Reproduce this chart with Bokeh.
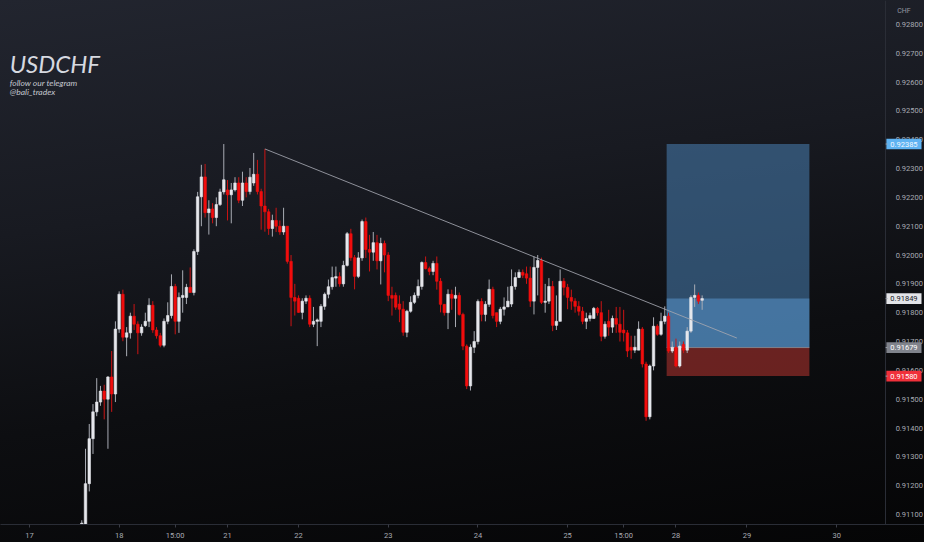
from bokeh.plotting import figure
from bokeh.models import Range1d, FixedTicker, PrintfTickFormatter, Label, ColumnDataSource
from bokeh.embed import file_html
from bokeh.resources import INLINE
from bokeh.core.properties import value

# ---- hourly OHLC candles (USDCHF) ----
opens = [0.91060, 0.91052, 0.91207, 0.91363, 0.91456, 0.91490, 0.91528, 0.91500, 0.91577, 0.91518,
         0.91743, 0.91864, 0.91715, 0.91730, 0.91788, 0.91760, 0.91730, 0.91755, 0.91770, 0.91826,
         0.91740, 0.91720, 0.91687, 0.91770, 0.91790, 0.91891, 0.91770, 0.91853, 0.91853, 0.91888,
         0.91870, 0.92012, 0.92202, 0.92271, 0.92147, 0.92160, 0.92130, 0.92175, 0.92219, 0.92226,
         0.92209, 0.92226, 0.92250, 0.92190, 0.92250, 0.92220, 0.92250, 0.92280, 0.92220, 0.92170,
         0.92150, 0.92092, 0.92120, 0.92100, 0.92080, 0.92100, 0.91978, 0.91853, 0.91850, 0.91801,
         0.91840, 0.91850, 0.91760, 0.91770, 0.91770, 0.91822, 0.91864, 0.91890, 0.91920, 0.91925,
         0.91900, 0.91964, 0.92074, 0.91991, 0.91926, 0.91990, 0.92116, 0.92019, 0.92010, 0.92043,
         0.91980, 0.92040, 0.92000, 0.91860, 0.91860, 0.91830, 0.91812, 0.91732, 0.91805, 0.91836,
         0.91860, 0.91891, 0.91974, 0.91953, 0.91943, 0.91971, 0.91909, 0.91829, 0.91800, 0.91864,
         0.91850, 0.91860, 0.91794, 0.91684, 0.91546, 0.91680, 0.91700, 0.91839, 0.91794, 0.91829,
         0.91881, 0.91800, 0.91770, 0.91812, 0.91820, 0.91830, 0.91891, 0.91922, 0.91940, 0.91935,
         0.91920, 0.91840, 0.91957, 0.91981, 0.91836, 0.91840, 0.91891, 0.91756, 0.91770, 0.91909,
         0.91888, 0.91853, 0.91840, 0.91822, 0.91805, 0.91770, 0.91780, 0.91780, 0.91815, 0.91800,
         0.91718, 0.91770, 0.91750, 0.91780, 0.91760, 0.91740, 0.91730, 0.91680, 0.91670, 0.91670,
         0.91743, 0.91622, 0.91439, 0.91615, 0.91753, 0.91725, 0.91770, 0.91788, 0.91667, 0.91680,
         0.91615, 0.91690, 0.91670, 0.91736, 0.91853, 0.91860, 0.91843]
highs = [0.91080, 0.91328, 0.91414, 0.91483, 0.91573, 0.91546, 0.91550, 0.91580, 0.91667, 0.91770,
         0.91874, 0.91880, 0.91750, 0.91800, 0.91830, 0.91770, 0.91760, 0.91800, 0.91850, 0.91840,
         0.91750, 0.91730, 0.91780, 0.91836, 0.91933, 0.91900, 0.91870, 0.91947, 0.91900, 0.91957,
         0.92020, 0.92219, 0.92313, 0.92316, 0.92190, 0.92180, 0.92200, 0.92230, 0.92385, 0.92260,
         0.92250, 0.92270, 0.92270, 0.92289, 0.92270, 0.92302, 0.92354, 0.92330, 0.92230, 0.92368,
         0.92160, 0.92140, 0.92164, 0.92120, 0.92164, 0.92100, 0.92000, 0.91900, 0.91860, 0.91850,
         0.91860, 0.91860, 0.91820, 0.91780, 0.91830, 0.91870, 0.91915, 0.91960, 0.91960, 0.91940,
         0.91980, 0.92080, 0.92091, 0.92000, 0.92010, 0.92123, 0.92130, 0.92070, 0.92080, 0.92070,
         0.92060, 0.92050, 0.92010, 0.91890, 0.91870, 0.91860, 0.91840, 0.91810, 0.91857, 0.91870,
         0.91915, 0.91978, 0.91995, 0.91960, 0.91980, 0.91995, 0.91920, 0.91830, 0.91881, 0.91880,
         0.91890, 0.91870, 0.91800, 0.91690, 0.91690, 0.91736, 0.91846, 0.91850, 0.91840, 0.91915,
         0.91890, 0.91800, 0.91820, 0.91853, 0.91890, 0.91950, 0.91940, 0.91950, 0.91950, 0.91960,
         0.91960, 0.91995, 0.92000, 0.91991, 0.91900, 0.91920, 0.91910, 0.91860, 0.91950, 0.91920,
         0.91900, 0.91880, 0.91850, 0.91840, 0.91820, 0.91800, 0.91800, 0.91820, 0.91820, 0.91840,
         0.91770, 0.91810, 0.91790, 0.91820, 0.91820, 0.91810, 0.91740, 0.91720, 0.91720, 0.91770,
         0.91750, 0.91630, 0.91620, 0.91784, 0.91760, 0.91800, 0.91822, 0.91800, 0.91700, 0.91710,
         0.91700, 0.91700, 0.91750, 0.91860, 0.91898, 0.91870, 0.91860]
lows = [0.91040, 0.91040, 0.91180, 0.91310, 0.91441, 0.91477, 0.91430, 0.91328, 0.91456, 0.91490,
        0.91730, 0.91701, 0.91649, 0.91710, 0.91740, 0.91656, 0.91720, 0.91750, 0.91750, 0.91730,
        0.91710, 0.91680, 0.91680, 0.91760, 0.91780, 0.91725, 0.91730, 0.91800, 0.91830, 0.91870,
        0.91860, 0.92000, 0.92100, 0.92130, 0.92071, 0.92110, 0.92100, 0.92170, 0.92210, 0.92120,
        0.92110, 0.92220, 0.92180, 0.92170, 0.92200, 0.92210, 0.92240, 0.92210, 0.92088, 0.92081,
        0.92070, 0.92064, 0.92080, 0.92070, 0.92070, 0.91970, 0.91753, 0.91790, 0.91800, 0.91777,
        0.91830, 0.91750, 0.91750, 0.91684, 0.91750, 0.91810, 0.91850, 0.91880, 0.91890, 0.91890,
        0.91890, 0.91960, 0.91980, 0.91881, 0.91920, 0.91980, 0.91990, 0.91943, 0.91980, 0.91950,
        0.91898, 0.91940, 0.91840, 0.91790, 0.91810, 0.91767, 0.91720, 0.91715, 0.91800, 0.91830,
        0.91850, 0.91880, 0.91950, 0.91930, 0.91930, 0.91880, 0.91801, 0.91790, 0.91743, 0.91810,
        0.91750, 0.91790, 0.91670, 0.91535, 0.91530, 0.91660, 0.91690, 0.91770, 0.91770, 0.91820,
        0.91780, 0.91750, 0.91760, 0.91790, 0.91820, 0.91820, 0.91880, 0.91920, 0.91920, 0.91900,
        0.91820, 0.91794, 0.91860, 0.91830, 0.91800, 0.91830, 0.91736, 0.91740, 0.91770, 0.91860,
        0.91812, 0.91810, 0.91800, 0.91790, 0.91760, 0.91743, 0.91770, 0.91780, 0.91790, 0.91701,
        0.91710, 0.91720, 0.91730, 0.91730, 0.91700, 0.91700, 0.91646, 0.91640, 0.91660, 0.91670,
        0.91610, 0.91425, 0.91430, 0.91600, 0.91720, 0.91720, 0.91760, 0.91660, 0.91660, 0.91610,
        0.91610, 0.91660, 0.91660, 0.91730, 0.91820, 0.91830, 0.91810]
closes = [0.91070, 0.91207, 0.91363, 0.91456, 0.91490, 0.91528, 0.91500, 0.91577, 0.91518, 0.91743,
          0.91864, 0.91715, 0.91730, 0.91788, 0.91760, 0.91730, 0.91750, 0.91770, 0.91826, 0.91740,
          0.91720, 0.91687, 0.91770, 0.91790, 0.91891, 0.91770, 0.91853, 0.91860, 0.91888, 0.91870,
          0.92012, 0.92202, 0.92271, 0.92147, 0.92160, 0.92130, 0.92175, 0.92219, 0.92261, 0.92209,
          0.92226, 0.92250, 0.92190, 0.92250, 0.92220, 0.92270, 0.92280, 0.92220, 0.92170, 0.92150,
          0.92092, 0.92120, 0.92100, 0.92080, 0.92100, 0.91978, 0.91853, 0.91840, 0.91801, 0.91840,
          0.91850, 0.91760, 0.91770, 0.91775, 0.91822, 0.91864, 0.91890, 0.91922, 0.91925, 0.91900,
          0.91964, 0.92074, 0.91991, 0.91926, 0.91990, 0.92116, 0.92019, 0.92010, 0.92043, 0.91980,
          0.92040, 0.92000, 0.91860, 0.91850, 0.91819, 0.91812, 0.91732, 0.91805, 0.91836, 0.91860,
          0.91891, 0.91974, 0.91953, 0.91943, 0.91971, 0.91909, 0.91829, 0.91800, 0.91864, 0.91850,
          0.91860, 0.91794, 0.91684, 0.91546, 0.91680, 0.91700, 0.91839, 0.91794, 0.91829, 0.91881,
          0.91790, 0.91770, 0.91812, 0.91820, 0.91840, 0.91891, 0.91922, 0.91940, 0.91930, 0.91920,
          0.91840, 0.91957, 0.91981, 0.91836, 0.91840, 0.91891, 0.91756, 0.91770, 0.91909, 0.91888,
          0.91853, 0.91840, 0.91822, 0.91805, 0.91770, 0.91780, 0.91790, 0.91815, 0.91800, 0.91718,
          0.91760, 0.91750, 0.91780, 0.91760, 0.91732, 0.91730, 0.91667, 0.91670, 0.91680, 0.91743,
          0.91622, 0.91439, 0.91615, 0.91753, 0.91725, 0.91770, 0.91788, 0.91667, 0.91680, 0.91615,
          0.91684, 0.91670, 0.91736, 0.91853, 0.91860, 0.91840, 0.91849]

# time axis (candle index -> date labels)
tick_pos = [-14, 10, 25, 39, 58, 82, 106, 130, 145, 159, 178, 202]
tick_labels = ["17", "18", "15:00", "21", "22", "23", "24", "25", "15:00", "28", "29", "30"]

# price axis ticks
price_ticks = [0.911, 0.912, 0.913, 0.914, 0.915, 0.916, 0.917, 0.918, 0.919,
               0.920, 0.921, 0.922, 0.923, 0.924, 0.925, 0.926, 0.927, 0.928]

# long-position tool
pos_start, pos_end = 156.5, 194.7
entry_price = 0.91679
target_price = 0.92385
stop_price = 0.91580
last_price = 0.91849

# trend line (index, price)
trend_x = [49, 175.3]
trend_y = [0.92368, 0.91712]

# price-scale tags: price, background, text colour
tag_prices = [target_price, last_price, entry_price, stop_price]
tag_bg = ["#5fb3f2", "#e3e4e8", "#80838c", "#f0303a"]
tag_fg = ["#f2f8ff", "#15171d", "#ffffff", "#ffffff"]

# ---------------------------------------------------------------
scale_x = 215.1          # where the price scale begins (candle-index units)
x_start, x_end = -21.75, 225.5
y_low, y_high = 0.910653, 0.928829

idx = list(range(len(opens)))
up = [i for i in idx if closes[i] >= opens[i]]
dn = [i for i in idx if closes[i] < opens[i]]

def src(sel):
    return ColumnDataSource(dict(
        x=[idx[i] for i in sel],
        h=[highs[i] for i in sel], l=[lows[i] for i in sel],
        top=[max(opens[i], closes[i]) for i in sel],
        bot=[min(opens[i], closes[i]) for i in sel]))

up_src, dn_src = src(up), src(dn)

p = figure(width=924, height=542,
           x_range=Range1d(x_start, x_end), y_range=Range1d(y_low, y_high),
           y_axis_location="right", output_backend="svg", toolbar_location=None)
p.styles = {"background": "linear-gradient(172deg, #22252f 0%, #181a21 35%, #0d0e11 65%, #050506 100%)"}
p.background_fill_alpha = 0
p.border_fill_alpha = 0
p.outline_line_color = None
p.min_border_left = 0
p.min_border_top = 0
p.min_border_right = 0
p.min_border_bottom = 16
p.xgrid.grid_line_color = None
p.ygrid.grid_line_color = None

# position tool
p.quad(left=[pos_start], right=[pos_end], bottom=[entry_price], top=[target_price],
       fill_color="#4d8ac2", fill_alpha=0.5, line_color=None)
p.quad(left=[pos_start], right=[pos_end], bottom=[entry_price], top=[last_price],
       fill_color="#5b9bd5", fill_alpha=0.5, line_color=None)
p.quad(left=[pos_start], right=[pos_end], bottom=[stop_price], top=[entry_price],
       fill_color="#d03a34", fill_alpha=0.48, line_color=None)
p.segment(x0=[pos_start], x1=[pos_end], y0=[entry_price], y1=[entry_price],
          line_color="#8e919a", line_width=1, line_alpha=0.8)

# candles
p.segment(x0="x", x1="x", y0="l", y1="h", source=up_src, line_color="#a9acb4", line_width=1)
p.segment(x0="x", x1="x", y0="l", y1="h", source=dn_src, line_color="#cc1414", line_width=1)
p.vbar(x="x", width=0.68, top="top", bottom="bot", source=up_src,
       fill_color="#e6e7ec", line_color="#e6e7ec", line_width=0.6)
p.vbar(x="x", width=0.68, top="top", bottom="bot", source=dn_src,
       fill_color="#f20d0d", line_color="#f20d0d", line_width=0.6)

# trend line
p.line(trend_x, trend_y, line_color="#a3a6af", line_width=1, line_alpha=0.85)

# watermark texts
p.add_layout(Label(x=-19.3, y=0.92665, text="USDCHF", text_font="Lato", text_font_style="italic",
                   text_font_size="24px", text_color="#d6d9e0",
                   text_baseline="alphabetic"))
p.add_layout(Label(x=-19.3, y=0.92598, text="follow our telegram", text_font="Lato",
                   text_font_style="italic", text_font_size="8.5px", text_color="#c3c6ce",
                   text_baseline="middle"))
p.add_layout(Label(x=-19.3, y=0.92567, text="@bali_tradex", text_font="Lato",
                   text_font_style="italic", text_font_size="8.5px", text_color="#c3c6ce",
                   text_baseline="middle"))

# price axis: drawn at the start of the price scale
ax = p.yaxis[0]
ax.fixed_location = scale_x
ax.ticker = FixedTicker(ticks=price_ticks)
ax.formatter = PrintfTickFormatter(format="%.5f")
ax.axis_line_color = "#2a2d36"
ax.major_tick_line_color = None
ax.minor_tick_line_color = None
ax.major_label_text_color = "#a8abb4"
ax.major_label_text_font = "Roboto"
ax.major_label_text_font_size = "7.5px"
ax.major_label_standoff = 4

bx = p.xaxis[0]
bx.ticker = FixedTicker(ticks=tick_pos)
bx.major_label_overrides = {k: v for k, v in zip(tick_pos, tick_labels)}
bx.axis_line_color = "#2a2d36"
bx.major_tick_line_color = "#3a3d46"
bx.major_tick_out = 3
bx.major_tick_in = 0
bx.minor_tick_line_color = None
bx.major_label_text_color = "#a8abb4"
bx.major_label_text_font = "Roboto"
bx.major_label_text_font_size = "7.5px"
bx.major_label_standoff = 3

# price tags on the scale
tag_mid = (scale_x + x_end) / 2 - 0.3
tag_src = ColumnDataSource(dict(
    y=tag_prices, bg=tag_bg, fg=tag_fg,
    txt=["%.5f" % v for v in tag_prices],
    x=[tag_mid] * len(tag_prices)))
p.rect(x="x", y="y", width=9.4, height=0.00037, source=tag_src,
       fill_color="bg", line_color=None, level="overlay")
p.text(x="x", y="y", text="txt", source=tag_src, text_color="fg",
       text_font=value("Roboto"), text_font_size="7.5px",
       text_align="center", text_baseline="middle", level="overlay")
p.segment(x0=[scale_x] * len(tag_prices), x1=[scale_x + 0.5] * len(tag_prices),
          y0=tag_prices, y1=tag_prices, line_color="#9aa0aa", line_width=1, level="overlay")

p.text(x=[tag_mid], y=[0.92848], text=["CHF"], text_color="#9598a1",
       text_font=value("Roboto"), text_font_size="7px",
       text_align="center", text_baseline="middle", level="overlay")

open("out.html", "w").write(file_html(p, INLINE))
